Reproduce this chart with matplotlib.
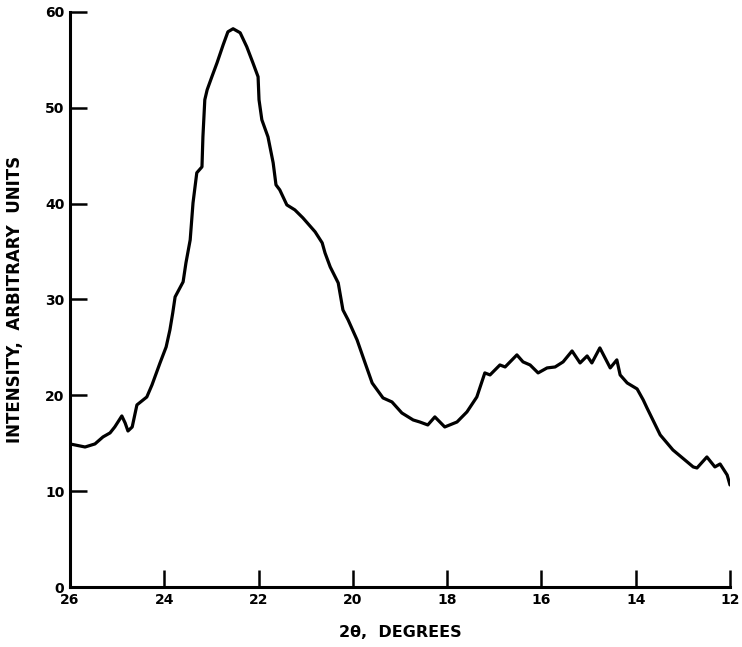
import matplotlib
matplotlib.use('Agg')
from matplotlib import pyplot as plt

# 2-theta (degrees) and intensity
two_theta = [26.00, 25.68, 25.47, 25.30, 25.15, 25.05, 24.90, 24.83, 24.77, 24.68,
             24.58, 24.37, 24.26, 24.09, 23.96, 23.88, 23.82, 23.77, 23.60, 23.54,
             23.45, 23.39, 23.31, 23.20, 23.18, 23.14, 23.09, 22.99, 22.88, 22.75,
             22.65, 22.54, 22.39, 22.25, 22.12, 22.01, 21.99, 21.93, 21.80, 21.69,
             21.63, 21.55, 21.40, 21.23, 21.06, 20.80, 20.65, 20.59, 20.48, 20.31,
             20.21, 20.10, 19.91, 19.74, 19.59, 19.36, 19.17, 18.96, 18.72, 18.58,
             18.41, 18.26, 18.05, 17.79, 17.58, 17.37, 17.20, 17.09, 16.88, 16.77,
             16.52, 16.39, 16.24, 16.07, 15.88, 15.71, 15.54, 15.35, 15.18, 15.03,
             14.93, 14.76, 14.54, 14.40, 14.33, 14.18, 13.97, 13.84, 13.76, 13.48,
             13.21, 12.78, 12.70, 12.49, 12.32, 12.21, 12.06, 12.00]
intensity = [14.93, 14.61, 14.93, 15.66, 16.08, 16.70, 17.85, 17.12, 16.28, 16.70,
             19.00, 19.83, 21.09, 23.38, 25.05, 26.83, 28.60, 30.27, 31.84, 33.82,
             36.22, 40.08, 43.22, 43.84, 46.97, 50.84, 51.88, 53.24, 54.70, 56.58,
             57.93, 58.25, 57.83, 56.37, 54.70, 53.24, 50.84, 48.75, 46.97, 44.26,
             41.96, 41.44, 39.87, 39.35, 38.52, 37.06, 35.91, 34.86, 33.40, 31.73,
             28.91, 27.87, 25.78, 23.38, 21.29, 19.73, 19.31, 18.16, 17.43, 17.22,
             16.91, 17.75, 16.70, 17.22, 18.27, 19.83, 22.34, 22.13, 23.17, 22.96,
             24.22, 23.49, 23.17, 22.34, 22.86, 22.96, 23.49, 24.63, 23.38, 24.11,
             23.38, 24.95, 22.86, 23.70, 22.13, 21.29, 20.67, 19.52, 18.68, 15.87,
             14.30, 12.53, 12.42, 13.57, 12.53, 12.84, 11.69, 10.65]

x_ticks = [26, 24, 22, 20, 18, 16, 14, 12]
y_ticks = [0, 10, 20, 30, 40, 50, 60]

fig = plt.figure(figsize=(7.42, 6.47), dpi=100)
ax = fig.add_axes([0.0943, 0.0927, 0.8895, 0.8888])

ax.plot(two_theta, intensity, color='black', linewidth=2.3,
        solid_joinstyle='round', solid_capstyle='round')

ax.set_xlim(26, 12)
ax.set_ylim(0, 60)
ax.set_xticks(x_ticks)
ax.set_yticks(y_ticks)

for s in ['top', 'right']:
    ax.spines[s].set_visible(False)
for s in ['left', 'bottom']:
    ax.spines[s].set_linewidth(2.2)

ax.tick_params(axis='both', direction='in', length=12.5, width=1.8, labelsize=10, pad=4)
for lab in ax.get_xticklabels() + ax.get_yticklabels():
    lab.set_fontweight('bold')

ax.set_xlabel('2\u03b8,  DEGREES', fontsize=11.5, fontweight='bold', labelpad=13)
ax.set_ylabel('INTENSITY,  ARBITRARY  UNITS', fontsize=12, fontweight='bold', labelpad=15)

fig.savefig('out.png', dpi=100)
